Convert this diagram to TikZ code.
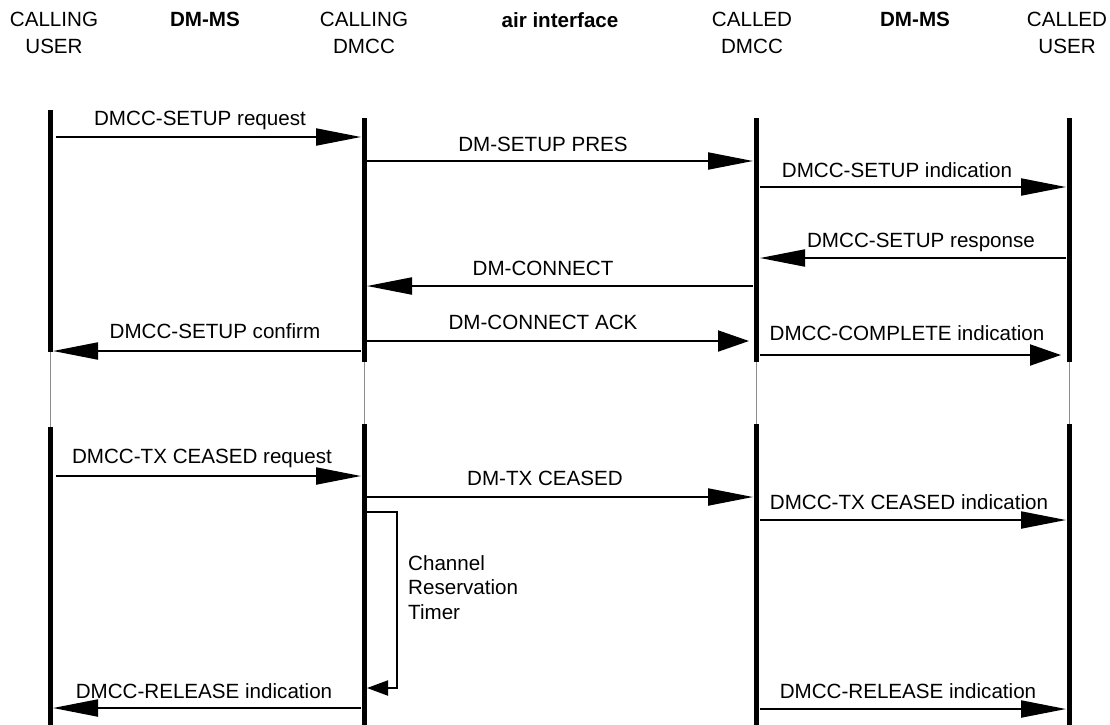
\documentclass[tikz,border=0pt]{standalone}
\usepackage{fontspec}
\setmainfont{Liberation Sans}
\usetikzlibrary{arrows.meta}
\tikzset{
  life/.style={line width=5pt, black},
  gap/.style={line width=1pt, black!45},
  msg/.style={line width=2pt, -{Triangle[length=45pt,width=17pt]}},
  msgshort/.style={line width=2pt, -{Triangle[length=31pt,width=21pt]}},
  lbl/.style={anchor=base, inner sep=0pt, font=\fontsize{20.6}{24}\selectfont},
  hdr/.style={anchor=north, inner sep=0pt, align=center, font=\fontsize{20.6}{27}\selectfont},
  hdrb/.style={hdr, font=\fontsize{20.6}{27}\selectfont\bfseries},
}
\begin{document}
\begin{tikzpicture}[x=1pt,y=-1pt]
\useasboundingbox (0,0) rectangle (1110,724);
% headers
\node[hdr]  (h1) at (54,12)  {CALLING\\USER};
\node[hdrb] (h2) at (205,12) {DM-MS};
\node[hdr]  (h3) at (364,12) {CALLING\\DMCC};
\node[hdrb] (h4) at (560,12) {air interface};
\node[hdr]  (h5) at (752,12) {CALLED\\DMCC};
\node[hdrb] (h6) at (915,12) {DM-MS};
\node[hdr]  (h7) at (1067,12) {CALLED\\USER};
% lifeline coordinates
\coordinate (u1a) at (50.5,110); \coordinate (u1b) at (50.5,352);
\coordinate (u1c) at (50.5,427); \coordinate (u1d) at (50.5,726);
\coordinate (d1a) at (364,118);  \coordinate (d1b) at (364,362);
\coordinate (d1c) at (364,424);  \coordinate (d1d) at (364,726);
\coordinate (d2a) at (756,118);  \coordinate (d2b) at (756,362);
\coordinate (d2c) at (756,424);  \coordinate (d2d) at (756,726);
\coordinate (u2a) at (1069,118); \coordinate (u2b) at (1069,362);
\coordinate (u2c) at (1069,424); \coordinate (u2d) at (1069,726);
\foreach \n in {u1,d1,d2,u2}{
  \draw[gap] (\n b) -- (\n c);
  \draw[life] (\n a) -- (\n b);
  \draw[life] (\n c) -- (\n d);
}
% messages
\foreach \i/\st/\xa/\xb/\yy/\lx/\ly/\txt in {
  1/msg/55.5/361/137/200/125/{DMCC-SETUP request},
  2/msg/367/753/161/543/151/{DM-SETUP PRES},
  3/msg/760/1066/187/897/177/{DMCC-SETUP indication},
  4/msg/1066/760/258/921/247/{DMCC-SETUP response},
  5/msg/753/367/286/543/275/{DM-CONNECT},
  6/msg/361/53/351/215/338/{DMCC-SETUP confirm},
  7/msgshort/367/749/341/543/329/{DM-CONNECT ACK},
  8/msgshort/760/1061/355/907/340/{DMCC-COMPLETE indication},
  9/msg/55.5/361/476/202/463/{DMCC-TX CEASED request},
  10/msg/367/753/497/545/485/{DM-TX CEASED},
  11/msg/760/1066/520/909/509/{DMCC-TX CEASED indication},
  12/msg/361/53/708/204/698/{DMCC-RELEASE indication},
  13/msg/760/1066/709/908/698/{DMCC-RELEASE indication}}{
  \coordinate (s\i) at (\xa,\yy);
  \coordinate (e\i) at (\xb,\yy);
  \draw[\st] (s\i) -- (e\i);
  \node[lbl] (l\i) at (\lx,\ly) {\txt};
}
% timer
\coordinate (t1) at (367,512);
\coordinate (t2) at (397,512);
\coordinate (t3) at (397,688);
\coordinate (t4) at (367,688);
\draw[line width=2pt, -{Triangle[length=21pt,width=15pt]}] (t1) -- (t2) -- (t3) -- (t4);
\node[anchor=north west, inner sep=0pt, align=left, font=\fontsize{20.6}{24.5}\selectfont] (tl) at (408,555) {Channel\\Reservation\\Timer};
\end{tikzpicture}
\end{document}
